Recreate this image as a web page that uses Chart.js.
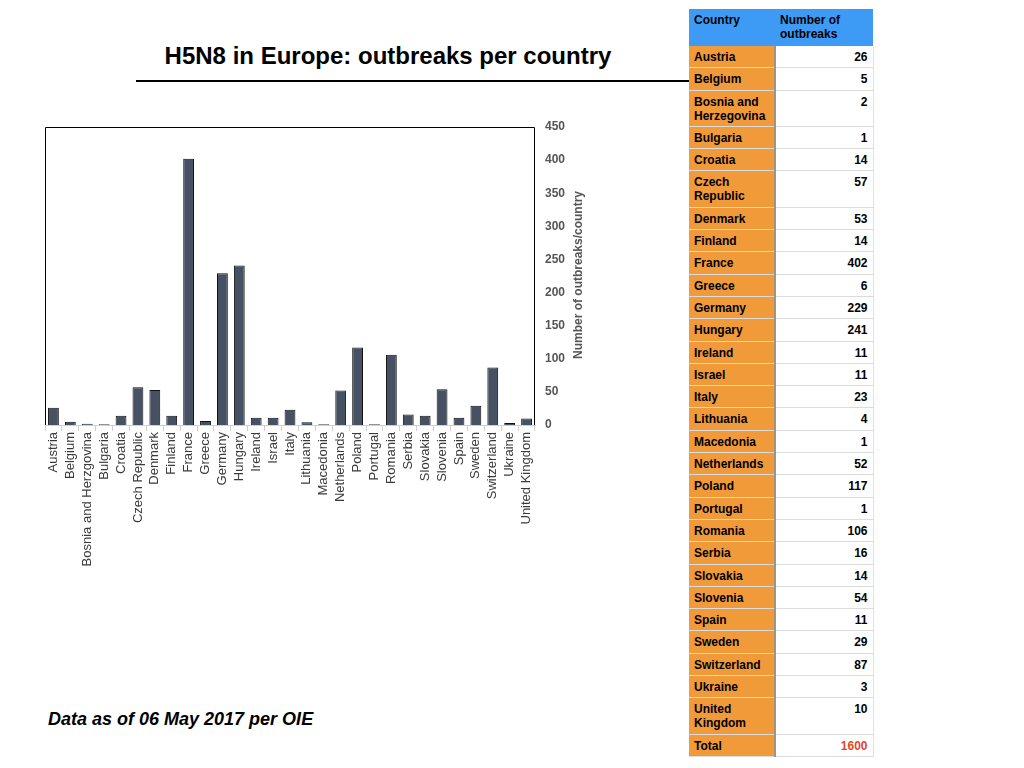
<!DOCTYPE html>
<html>
<head>
<meta charset="utf-8">
<script src="https://cdn.jsdelivr.net/npm/chart.js@4"></script>
<style>
  html, body { margin:0; padding:0; background:#fff; width:1024px; height:768px; overflow:hidden; }
  body { position:relative; font-family:"Liberation Sans", Arial, Helvetica, sans-serif; }
  #title { position:absolute; left:0; top:41px; width:776px; text-align:center; font-weight:bold; font-size:24px; line-height:30px; color:#000; }
  #rule { position:absolute; left:136px; top:80px; width:554px; height:2px; background:#000; }
  #chartWrap { position:absolute; left:0; top:100px; width:600px; height:480px; }
  #yTitle { position:absolute; left:578px; top:275px; transform:translate(-50%,-50%) rotate(-90deg); white-space:nowrap; font-weight:bold; font-size:12px; color:#555; }
  #footer { position:absolute; left:48px; top:708px; font-weight:bold; font-style:italic; font-size:18px; line-height:22px; color:#000; }
  #tbl { position:absolute; left:689px; top:9px; width:184px; border-collapse:collapse; table-layout:fixed; font-weight:bold; font-size:12px; color:#000; }
  #tbl td, #tbl th { line-height:14px; padding:4px 5px 3.3px 5px; vertical-align:top; border-bottom:1px solid #dcdcdc; }
  #tbl th { background:#3d9bf5; text-align:left; font-weight:bold; padding:4px 5px 5px 5px; border-bottom:none; }
  #tbl td.c { background:#f09a3a; border-right:2px solid #a39584; }
  #tbl td.v { text-align:right; background:#fff; border-right:1px solid #e2e2e2; }
  #tbl td.red { color:#e8452c; }
</style>
</head>
<body>
<div id="title">H5N8 in Europe: outbreaks per country</div>
<div id="rule"></div>
<div id="chartWrap"><canvas id="c" width="600" height="480"></canvas></div>
<div id="yTitle">Number of outbreaks/country</div>
<div id="footer">Data as of 06 May 2017 per OIE</div>
<table id="tbl">
  <colgroup><col style="width:86px"><col style="width:98px"></colgroup>
  <thead><tr><th>Country</th><th>Number of outbreaks</th></tr></thead>
  <tbody id="tbody"></tbody>
</table>
<script>
// ---- data ----
const chartLabels = ['Austria','Belgium','Bosnia and Herzgovina','Bulgaria','Croatia','Czech Republic','Denmark','Finland','France','Greece','Germany','Hungary','Ireland','Israel','Italy','Lithuania','Macedonia','Netherlands','Poland','Portugal','Romania','Serbia','Slovakia','Slovenia','Spain','Sweden','Switzerland','Ukraine','United Kingdom'];
const tableCountries = ['Austria','Belgium','Bosnia and Herzegovina','Bulgaria','Croatia','Czech Republic','Denmark','Finland','France','Greece','Germany','Hungary','Ireland','Israel','Italy','Lithuania','Macedonia','Netherlands','Poland','Portugal','Romania','Serbia','Slovakia','Slovenia','Spain','Sweden','Switzerland','Ukraine','United Kingdom'];
const outbreaks = [26,5,2,1,14,57,53,14,402,6,229,241,11,11,23,4,1,52,117,1,106,16,14,54,11,29,87,3,10];
const totalOutbreaks = 1600;
const yTicks = [0,50,100,150,200,250,300,350,400,450];

// ---- table ----
const tbody = document.getElementById('tbody');
tableCountries.forEach((name, i) => {
  const tr = document.createElement('tr');
  const a = document.createElement('td'); a.className = 'c'; a.textContent = name;
  const b = document.createElement('td'); b.className = 'v'; b.textContent = outbreaks[i];
  tr.appendChild(a); tr.appendChild(b); tbody.appendChild(tr);
});
{
  const tr = document.createElement('tr');
  const a = document.createElement('td'); a.className = 'c'; a.textContent = 'Total';
  const b = document.createElement('td'); b.className = 'v red'; b.textContent = totalOutbreaks;
  tr.appendChild(a); tr.appendChild(b); tbody.appendChild(tr);
}

// ---- chart ----
const boxPlugin = {
  id: 'box',
  afterDraw(chart) {
    const {ctx, chartArea: a} = chart;
    ctx.save();
    ctx.strokeStyle = '#000';
    ctx.lineWidth = 1;
    ctx.beginPath();
    ctx.moveTo(a.left + 0.5, a.bottom);
    ctx.lineTo(a.left + 0.5, a.top + 0.5);
    ctx.lineTo(a.right - 0.5, a.top + 0.5);
    ctx.lineTo(a.right - 0.5, a.bottom);
    ctx.stroke();
    ctx.restore();
  }
};

new Chart(document.getElementById('c'), {
  type: 'bar',
  data: {
    labels: chartLabels,
    datasets: [{
      data: outbreaks,
      backgroundColor: '#465264',
      borderColor: '#111',
      borderWidth: 1,
      barPercentage: 0.64,
      categoryPercentage: 1.0
    }]
  },
  options: {
    responsive: false,
    animation: false,
    devicePixelRatio: 1,
    layout: { padding: { left: 45, top: 27, right: 0, bottom: 0 } },
    plugins: { legend: { display: false }, tooltip: { enabled: false } },
    scales: {
      x: {
        offset: true,
        grid: { display: true, drawOnChartArea: false, drawTicks: true, tickLength: 6, color: '#d0d0d0', offset: true },
        border: { display: true, color: '#d0d0d0' },
        ticks: {
          autoSkip: false, maxRotation: 90, minRotation: 90, padding: 1,
          color: '#3a3a3a', font: { family: '"Liberation Sans", Arial, sans-serif', size: 13 }
        },
        afterFit: s => { s.height = 155; }
      },
      y: {
        position: 'right',
        min: 0, max: 450,
        afterBuildTicks: s => { s.ticks = yTicks.map(v => ({ value: v })); },
        grid: { display: false },
        border: { display: false },
        ticks: {
          padding: 2, color: '#555',
          font: { family: '"Liberation Sans", Arial, sans-serif', size: 12, weight: 'bold' }
        },
        afterFit: s => { s.width = 65; }
      }
    }
  },
  plugins: [boxPlugin]
});
</script>
</body>
</html>
